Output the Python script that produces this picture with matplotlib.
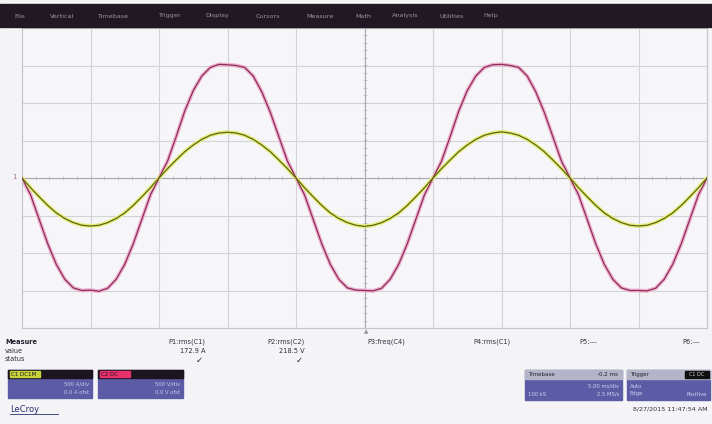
import numpy as np
import matplotlib
matplotlib.use("Agg")
from matplotlib import pyplot as plt
from matplotlib.patches import Rectangle

# time axis, ms (5 ms/div, 10 div), sampled every 0.625 ms
t_ms = np.arange(81) * 0.625

# current trace C1 (pink/red), in divisions
c1_div = [0, -0.45, -1.1, -1.75, -2.3, -2.7, -2.93, -3.0, -2.99, -3.02, -2.94, -2.7, -2.3, -1.75, -1.1, -0.45,
          0, 0.45, 1.1, 1.78, 2.33, 2.72, 2.95, 3.03, 3.02, 3.0, 2.95, 2.72, 2.3, 1.75, 1.1, 0.45,
          0, -0.45, -1.1, -1.75, -2.3, -2.7, -2.93, -2.99, -3.0, -3.01, -2.94, -2.7, -2.3, -1.75, -1.1, -0.45,
          0, 0.45, 1.1, 1.78, 2.33, 2.72, 2.95, 3.02, 3.03, 3.0, 2.95, 2.72, 2.3, 1.75, 1.1, 0.45,
          0, -0.45, -1.1, -1.75, -2.3, -2.7, -2.93, -3.0, -3.0, -3.01, -2.94, -2.7, -2.3, -1.75, -1.1, -0.45, 0]

# voltage trace C2 (yellow), in divisions
c2_div = [0, -0.26, -0.5, -0.73, -0.93, -1.08, -1.19, -1.26, -1.28, -1.26, -1.19, -1.08, -0.93, -0.73, -0.5, -0.26,
          0, 0.25, 0.48, 0.7, 0.88, 1.03, 1.14, 1.2, 1.22, 1.2, 1.14, 1.03, 0.88, 0.7, 0.48, 0.25,
          0, -0.26, -0.5, -0.73, -0.93, -1.08, -1.19, -1.26, -1.29, -1.26, -1.19, -1.08, -0.93, -0.73, -0.5, -0.26,
          0, 0.25, 0.48, 0.7, 0.88, 1.03, 1.14, 1.2, 1.23, 1.2, 1.14, 1.03, 0.88, 0.7, 0.48, 0.25,
          0, -0.26, -0.5, -0.73, -0.93, -1.08, -1.19, -1.26, -1.28, -1.26, -1.19, -1.08, -0.93, -0.73, -0.5, -0.26, 0]

menu_items = ["File", "Vertical", "Timebase", "Trigger", "Display", "Cursors",
              "Measure", "Math", "Analysis", "Utilities", "Help"]
menu_x = [14, 50, 97, 158, 205, 256, 306, 355, 392, 440, 483]

meas_names = ["P1:rms(C1)", "P2:rms(C2)", "P3:freq(C4)", "P4:rms(C1)", "P5:---", "P6:---"]
meas_values = ["172.9 A", "218.5 V", "", "", "", ""]
meas_x = [205, 305, 405, 510, 597, 700]

W, H = 712, 424
def fx(x): return x / W
def fy(y): return 1 - y / H

fig = plt.figure(figsize=(7.12, 4.24), dpi=100)
fig.patch.set_facecolor('#f4f4f6')

# menu bar
fig.patches.append(Rectangle((0, fy(27)), 1, (27 - 4) / H, transform=fig.transFigure,
                             color='#221823', zorder=0))
for name, x in zip(menu_items, menu_x):
    fig.text(fx(x), fy(16), name, fontsize=4.6, color='#9a95a0', va='center')

# scope grid
ax = fig.add_axes([fx(22), fy(328), fx(707) - fx(22), (328 - 28) / H])
ax.set_facecolor('#f6f6f8')
ax.set_xlim(0, 50)
ax.set_ylim(-4, 4)
for x in np.arange(0, 51, 5):
    ax.axvline(x, color='#d2d2d7', lw=0.8, zorder=1)
for y in np.arange(-4, 5, 1):
    ax.axhline(y, color='#d2d2d7', lw=0.8, zorder=1)
ax.axhline(0, color='#a8a8ae', lw=0.8, zorder=1)
ax.axvline(25, color='#a8a8ae', lw=0.8, zorder=1)
# crosshair minor ticks
ax.plot(np.arange(0, 50.1, 1), np.zeros(51), '|', color='#b4b4ba', ms=2.5, mew=0.5, zorder=1)
ax.plot(np.full(41, 25.0), np.arange(-4, 4.01, 0.2), '_', color='#b4b4ba', ms=2.5, mew=0.5, zorder=1)
for s in ax.spines.values():
    s.set_color('#c4c4ca')
ax.set_xticks([])
ax.set_yticks([])

# traces: soft halo + darker core
ax.plot(t_ms, c1_div, color='#eeb2cc', lw=2.8, zorder=2, solid_capstyle='round')
ax.plot(t_ms, c1_div, color='#8c2c5e', lw=0.9, zorder=3)
ax.plot(t_ms, c2_div, color='#e6ee78', lw=2.8, zorder=2, solid_capstyle='round')
ax.plot(t_ms, c2_div, color='#5f6418', lw=0.9, zorder=3)

# channel / trigger markers
fig.text(fx(14), fy(177), '1', fontsize=5, color='#a07090', ha='center', va='center')
fig.text(fx(366), fy(332), '▲', fontsize=4, color='#9090a0', ha='center', va='center')

# measurement table
fig.text(fx(5), fy(342), 'Measure', fontsize=4.8, color='#202030', weight='bold', va='center')
fig.text(fx(5), fy(351), 'value', fontsize=4.8, color='#303040', va='center')
fig.text(fx(5), fy(359), 'status', fontsize=4.8, color='#303040', va='center')
for name, val, x in zip(meas_names, meas_values, meas_x):
    fig.text(fx(x), fy(342), name, fontsize=4.8, color='#303040', ha='right', va='center')
    if val:
        fig.text(fx(x), fy(351), val, fontsize=4.8, color='#303040', ha='right', va='center')
        fig.text(fx(x - 6), fy(360), '✓', fontsize=6, color='#202030', ha='center', va='center')

def chan_box(x0, x1, label, label_col, line1, line2):
    fig.patches.append(Rectangle((fx(x0), fy(398)), fx(x1) - fx(x0), 28 / H,
                                 transform=fig.transFigure, color='#5c5ca6', zorder=1))
    fig.patches.append(Rectangle((fx(x0), fy(378)), fx(x1) - fx(x0), 8 / H,
                                 transform=fig.transFigure, color='#1c141e', zorder=2))
    fig.patches.append(Rectangle((fx(x0 + 2), fy(377)), 30 / W, 6 / H,
                                 transform=fig.transFigure, color=label_col, zorder=3))
    fig.text(fx(x0 + 3), fy(374), label, fontsize=4, color='#1c141e', va='center', zorder=4)
    fig.text(fx(x1 - 3), fy(384), line1, fontsize=3.8, color='#c8c8ee', ha='right', va='center')
    fig.text(fx(x1 - 3), fy(392), line2, fontsize=3.8, color='#c8c8ee', ha='right', va='center')

chan_box(8, 92, 'C1 DC1M', '#c8d23c', '500 A/div', '0.0 A ofst')
chan_box(98, 183, 'C2 DC', '#e8306c', '500 V/div', '0.0 V ofst')

# timebase / trigger boxes
for x0, x1, head, l1, r1, l2, r2 in [(525, 622, 'Timebase', '', '5.00 ms/div', '100 kS', '2.5 MS/s'),
                                     (627, 710, 'Trigger', 'Auto', '', 'Edge', 'Positive')]:
    fig.patches.append(Rectangle((fx(x0), fy(400)), fx(x1) - fx(x0), 30 / H,
                                 transform=fig.transFigure, color='#5c5ca6', zorder=1))
    fig.patches.append(Rectangle((fx(x0), fy(379)), fx(x1) - fx(x0), 9 / H,
                                 transform=fig.transFigure, color='#b4b4c8', zorder=2))
    fig.text(fx(x0 + 3), fy(374.5), head, fontsize=4, color='#202030', va='center', zorder=3)
    fig.text(fx(x0 + 3), fy(386), l1, fontsize=3.8, color='#d0d0f0', va='center')
    fig.text(fx(x1 - 3), fy(386), r1, fontsize=3.8, color='#d0d0f0', ha='right', va='center')
    fig.text(fx(x0 + 3), fy(394), l2, fontsize=3.8, color='#d0d0f0', va='center')
    fig.text(fx(x1 - 3), fy(394), r2, fontsize=3.8, color='#d0d0f0', ha='right', va='center')
fig.text(fx(618), fy(374.5), '-0.2 ms', fontsize=4, color='#202030', ha='right', va='center', zorder=3)
fig.patches.append(Rectangle((fx(685), fy(378)), 24 / W, 7 / H,
                             transform=fig.transFigure, color='#101010', zorder=3))
fig.text(fx(697), fy(374.5), 'C1 DC', fontsize=3.5, color='#d0d0d0', ha='center', va='center', zorder=4)

fig.text(fx(708), fy(409), '8/27/2015 11:47:54 AM', fontsize=4.6, color='#303040', ha='right', va='center')
fig.text(fx(10), fy(409), 'LeCroy', fontsize=6, color='#283070', va='center')
fig.lines.append(plt.Line2D([fx(10), fx(58)], [fy(414), fy(414)], transform=fig.transFigure,
                            color='#283070', lw=0.6))

fig.savefig('out.png', dpi=100, facecolor=fig.get_facecolor())
